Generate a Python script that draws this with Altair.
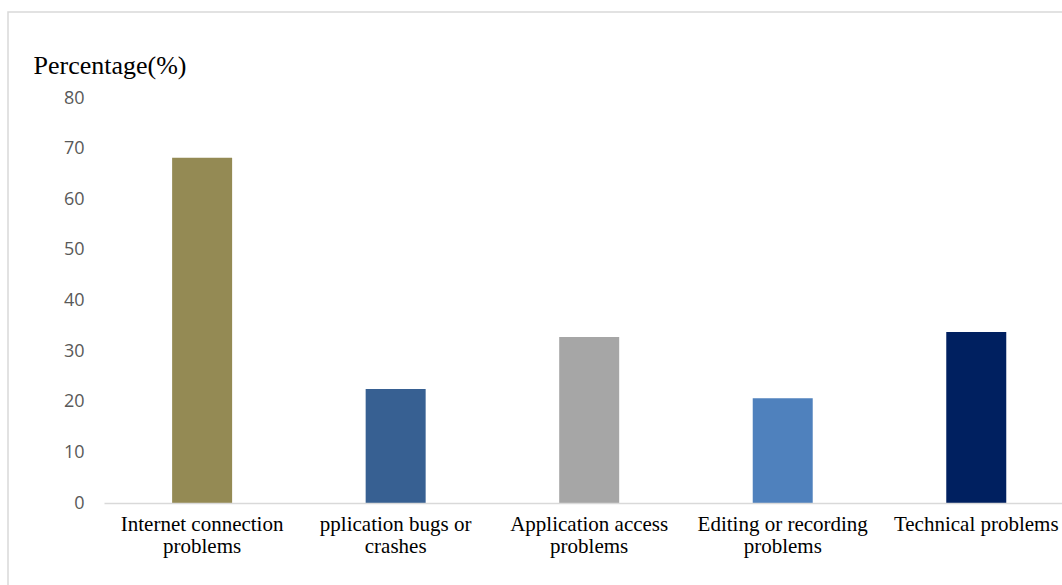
import altair as alt
import pandas as pd

categories = [
    "Internet connection problems",
    "pplication bugs or crashes",
    "Application access problems",
    "Editing or recording problems",
    "Technical problems",
]
label_lines = [
    ["Internet connection", "problems"],
    ["pplication bugs or", "crashes"],
    ["Application access", "problems"],
    ["Editing or recording", "problems"],
    ["Technical problems"],
]
values = [68.2, 22.5, 32.8, 20.7, 33.8]
colors = ["#948A54", "#376092", "#A6A6A6", "#4F81BD", "#002060"]
y_ticks = [0, 10, 20, 30, 40, 50, 60, 70, 80]

df = pd.DataFrame({"category": categories, "value": values})

# build label expression mapping category -> multi-line label
expr = "datum.value"
for cat, lines in reversed(list(zip(categories, label_lines))):
    arr = "[" + ",".join("'" + l + "'" for l in lines) + "]"
    expr = f"datum.value == '{cat}' ? {arr} : ({expr})"

W, H = 958, 405

border = alt.Chart(pd.DataFrame({"a": [0]})).mark_rect(
    fillOpacity=0, stroke="#d9d9d9", strokeWidth=1.5
).encode(
    x=alt.value(-96), y=alt.value(-86), x2=alt.value(W + 40), y2=alt.value(H + 150)
)

bars = alt.Chart(df).mark_bar().encode(
    x=alt.X(
        "category:N",
        sort=categories,
        scale=alt.Scale(paddingInner=0.69, paddingOuter=0.32, align=0.55),
        axis=alt.Axis(
            title=None,
            labelAngle=0,
            labelExpr=expr,
            labelFont="Liberation Serif",
            labelFontSize=21,
            labelColor="#000000",
            labelLineHeight=22,
            labelPadding=10,
            labelLimit=300,
            ticks=False,
            domainColor="#d9d9d9",
            domainWidth=1.5,
            zindex=1,
        ),
    ),
    y=alt.Y(
        "value:Q",
        scale=alt.Scale(domain=[0, 80]),
        axis=alt.Axis(
            values=y_ticks,
            title="Percentage(%)",
            titleAngle=0,
            titleAlign="left",
            titleBaseline="alphabetic",
            titleX=-71,
            titleY=-25,
            titleFont="Liberation Serif",
            titleFontSize=26,
            titleFontWeight="normal",
            titleColor="#000000",
            labelFont="Open Sans",
            labelFontSize=18,
            labelColor="#595959",
            labelPadding=20,
            ticks=False,
            domain=False,
            grid=False,
            zindex=1,
        ),
    ),
    color=alt.Color("category:N", scale=alt.Scale(domain=categories, range=colors), legend=None),
)

chart = alt.layer(border, bars).properties(
    width=W,
    height=H,
    background="white",
    autosize=alt.AutoSizeParams(type="none"),
    padding={"left": 104, "top": 98, "right": 0, "bottom": 82},
).configure_view(strokeWidth=0, stroke="transparent")

chart.save("out.html", embed_options={"renderer": "svg", "actions": False})
